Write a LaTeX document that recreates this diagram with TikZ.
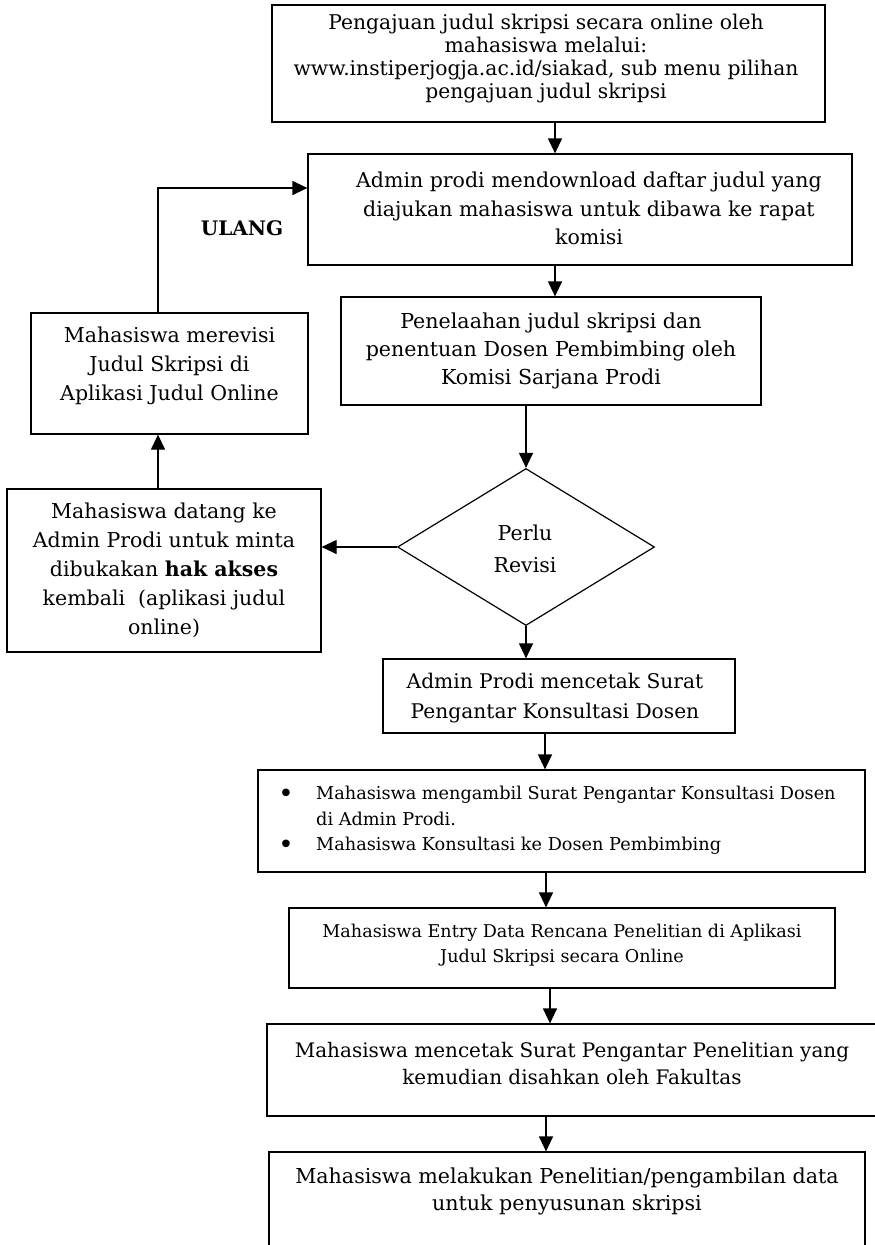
\documentclass[tikz,border=0pt]{standalone}
\usepackage{fontspec}
\setmainfont{DejaVu Serif}
\usetikzlibrary{shapes.geometric,arrows.meta}
\newcommand{\fsz}[2]{\fontsize{#1}{#2}\selectfont}

\begin{document}
\begin{tikzpicture}[x=1pt,y=-1pt,
  box/.style={draw=black,line width=1.2pt,rectangle,inner sep=0pt},
  txt/.style={align=center,inner sep=0pt},
  arr/.style={draw=black,line width=1.2pt,-{Triangle[length=15pt,width=14pt]}},
  ln/.style={draw=black,line width=1.2pt}]
\useasboundingbox (0,0) rectangle (875,1245);
\clip (0,0) rectangle (875,1245);

% main column
\node[box,minimum width=553pt,minimum height=117pt] (b1) at (548.5,63.5) {};
\node[txt,font=\fsz{20.3}{23}] (t1) at (546,59)
  {Pengajuan judul skripsi secara online oleh\\mahasiswa melalui:\\www.instiperjogja.ac.id/siakad, sub menu pilihan\\pengajuan judul skripsi};

\node[box,minimum width=544pt,minimum height=111pt] (b2) at (580,209.5) {};
\node[txt,font=\fsz{20.5}{28.5}] (t2) at (589,208.5)
  {Admin prodi mendownload daftar judul yang\\diajukan mahasiswa untuk dibawa ke rapat\\komisi};

\node[box,minimum width=420pt,minimum height=108pt] (b3) at (551,351) {};
\node[txt,font=\fsz{20.6}{28}] (t3) at (551,350.5)
  {Penelaahan judul skripsi dan\\penentuan Dosen Pembimbing oleh\\Komisi Sarjana Prodi};

\node[diamond,draw=black,line width=1.2pt,inner sep=0pt,aspect=1.64,
      minimum width=257pt,minimum height=157pt] (dia) at (526,547) {};
\node[txt,font=\fsz{20.5}{32}] (td) at (525,549) {Perlu\\Revisi};

\node[box,minimum width=352pt,minimum height=74pt] (b4) at (559,696) {};
\node[txt,font=\fsz{20.2}{30}] (t4) at (555,698)
  {Admin Prodi mencetak Surat\\Pengantar Konsultasi Dosen};

\node[box,minimum width=607pt,minimum height=102pt] (b5) at (561.5,821) {};
\node[inner sep=0pt,font=\fsz{26}{25}] (k1) at (286,796) {•};
\node[inner sep=0pt,font=\fsz{26}{25}] (k2) at (286,847) {•};
\node[anchor=west,align=left,inner sep=0pt,font=\fsz{17.7}{25.5}] (t5) at (316,820.5)
  {Mahasiswa mengambil Surat Pengantar Konsultasi Dosen\\di Admin Prodi.\\Mahasiswa Konsultasi ke Dosen Pembimbing};

\node[box,minimum width=546pt,minimum height=80pt] (b6) at (562,948) {};
\node[txt,font=\fsz{17.6}{25}] (t6) at (562,945.5)
  {Mahasiswa Entry Data Rencana Penelitian di Aplikasi\\Judul Skripsi secara Online};

\node[box,minimum width=611pt,minimum height=92pt] (b7) at (572.5,1070) {};
\node[txt,font=\fsz{20}{27}] (t7) at (572,1063.5)
  {Mahasiswa mencetak Surat Pengantar Penelitian yang\\kemudian disahkan oleh Fakultas};

\node[box,minimum width=596pt,minimum height=120pt] (b8) at (567,1212) {};
\node[txt,font=\fsz{20.6}{27}] (t8) at (567,1191.5)
  {Mahasiswa melakukan Penelitian/pengambilan data\\untuk penyusunan skripsi};

% revision loop on the left
\node[box,minimum width=277pt,minimum height=121pt] (lu) at (169.5,373.5) {};
\node[txt,font=\fsz{20.5}{29}] (tlu) at (169.5,366)
  {Mahasiswa merevisi\\Judul Skripsi di\\Aplikasi Judul Online};

\node[box,minimum width=314pt,minimum height=163pt] (ll) at (164,570.5) {};
\node[txt,font=\fsz{20.5}{29}] (tll) at (164,570.5)
  {Mahasiswa datang ke\\Admin Prodi untuk minta\\dibukakan \textbf{hak akses}\\kembali\ \ (aplikasi judul\\online)};

\node[inner sep=0pt,font=\fsz{20}{24}\bfseries] (ulang) at (242,228) {ULANG};

% guide coordinates for the connector columns
\coordinate (x1) at (555,0);
\coordinate (x4) at (545,0);
\coordinate (x5) at (546,0);
\coordinate (x6) at (550,0);
\coordinate (x7) at (546,0);
\coordinate (xl) at (158,0);
\coordinate (yl) at (0,188);

% connectors
\draw[arr] (b1.south -| x1) -- (b2.north -| x1);
\draw[arr] (b2.south -| x1) -- (b3.north -| x1);
\draw[arr] (b3.south -| dia.north) -- (dia.north);
\draw[arr] (dia.west) -- (dia.west -| ll.east);
\draw[arr] (ll.north -| xl) -- (lu.south -| xl);
\draw[arr] (lu.north -| xl) |- (b2.west |- yl);
\draw[arr] (dia.south) -- (dia.south |- b4.north);
\draw[arr] (b4.south -| x4) -- (b5.north -| x4);
\draw[arr] (b5.south -| x5) -- (b6.north -| x5);
\draw[arr] (b6.south -| x6) -- (b7.north -| x6);
\draw[arr] (b7.south -| x7) -- (b8.north -| x7);
\end{tikzpicture}
\end{document}
